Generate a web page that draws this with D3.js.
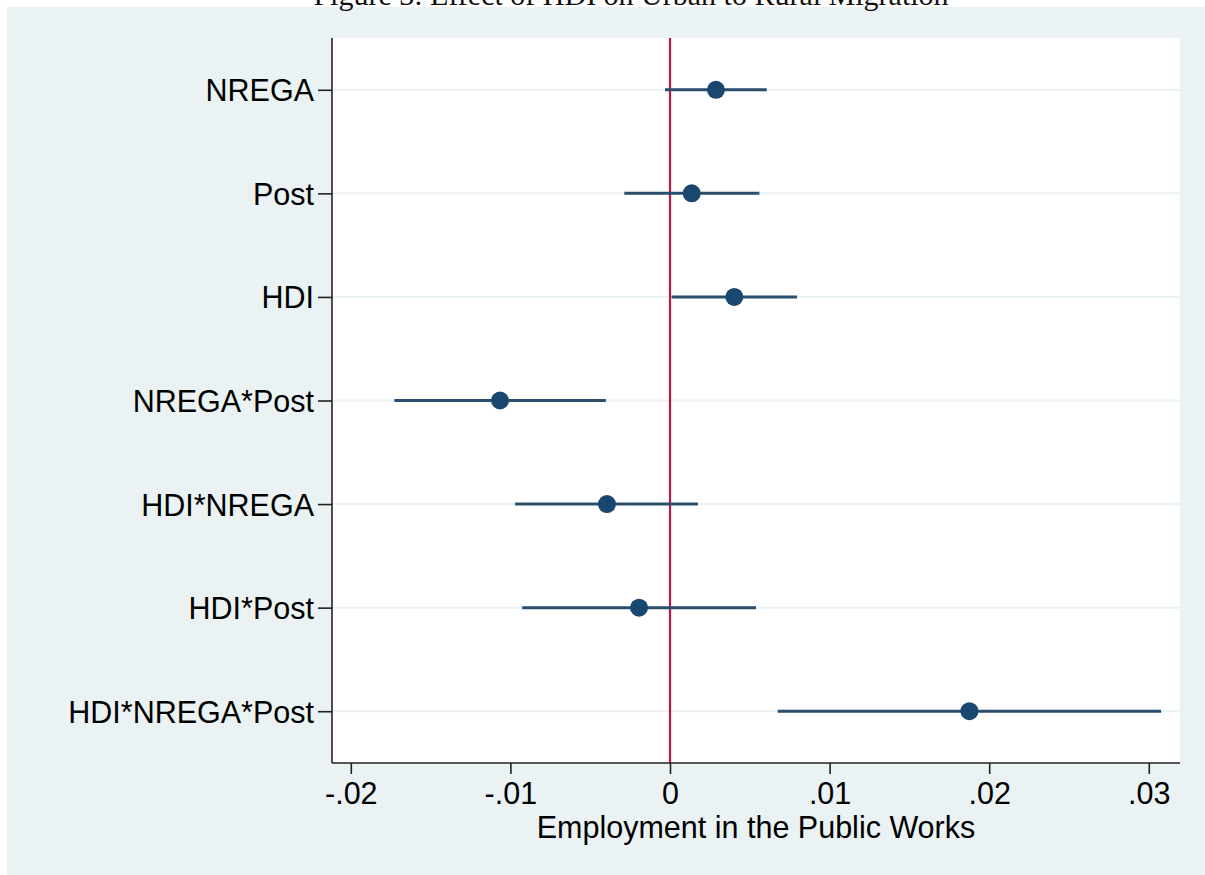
<!DOCTYPE html>
<html>
<head>
<meta charset="utf-8">
<script src="https://cdn.jsdelivr.net/npm/d3@7"></script>
<style>
  html, body { margin: 0; padding: 0; background: #ffffff; }
  svg { display: block; }
</style>
</head>
<body>
<svg id="chart" width="1205" height="875"></svg>
<script>
// Coefficient plot: point estimates with 95% confidence intervals
const terms = ["NREGA", "Post", "HDI", "NREGA*Post", "HDI*NREGA", "HDI*Post", "HDI*NREGA*Post"];
const estimates = [0.00288, 0.00136, 0.00403, -0.01065, -0.00395, -0.00194, 0.01876];
const ciLow  = [-0.00031, -0.00286, 0.00010, -0.01727, -0.00971, -0.00926, 0.00675];
const ciHigh = [0.00606, 0.00560, 0.00796, -0.00402, 0.00175, 0.00539, 0.03077];
const xTicks = [-0.02, -0.01, 0, 0.01, 0.02, 0.03];
const xTickLabels = ["-.02", "-.01", "0", ".01", ".02", ".03"];
const xTitle = "Employment in the Public Works";
const figTitle = "Figure 3: Effect of HDI on Urban to Rural Migration";

const svg = d3.select("#chart");
const W = 1205, H = 875;
const plot = { left: 332, right: 1180, top: 38, bottom: 763 };

// Graph background
svg.append("rect").attr("x", 7).attr("y", 7).attr("width", W - 7).attr("height", H - 7)
  .attr("fill", "#eaf2f3");

// Figure caption, running off the top edge of the page
svg.append("text")
  .attr("x", 631).attr("y", 5)
  .attr("text-anchor", "middle")
  .attr("font-family", "'Liberation Serif', 'Times New Roman', serif")
  .attr("font-size", 30)
  .attr("fill", "#111")
  .text(figTitle);

// Plot region
svg.append("rect")
  .attr("x", plot.left).attr("y", plot.top)
  .attr("width", plot.right - plot.left).attr("height", plot.bottom - plot.top)
  .attr("fill", "#ffffff");

const x = d3.scaleLinear()
  .domain([(plot.left - 670) / 15960, (plot.right - 670) / 15960])
  .range([plot.left, plot.right]);

const y = d3.scalePoint()
  .domain(terms)
  .range([plot.top, plot.bottom])
  .padding(0.5);

const font = "'Liberation Sans', Arial, Helvetica, sans-serif";
const fs = 30.5;

// Horizontal gridlines at each term
svg.append("g").selectAll("line")
  .data(terms).join("line")
  .attr("x1", plot.left).attr("x2", plot.right)
  .attr("y1", d => y(d)).attr("y2", d => y(d))
  .attr("stroke", "#eaf2f3").attr("stroke-width", 2);

// Reference line at zero
svg.append("line")
  .attr("x1", x(0)).attr("x2", x(0))
  .attr("y1", plot.top).attr("y2", plot.bottom)
  .attr("stroke", "#c41540").attr("stroke-width", 2.2);

// Confidence intervals
svg.append("g").selectAll("line")
  .data(terms).join("line")
  .attr("x1", (d, i) => x(ciLow[i])).attr("x2", (d, i) => x(ciHigh[i]))
  .attr("y1", d => y(d)).attr("y2", d => y(d))
  .attr("stroke", "#2b4d6e").attr("stroke-width", 3);

// Point estimates
svg.append("g").selectAll("circle")
  .data(terms).join("circle")
  .attr("cx", (d, i) => x(estimates[i]))
  .attr("cy", d => y(d))
  .attr("r", 9)
  .attr("fill", "#1a476f");

// Y axis
const yAxis = svg.append("g")
  .attr("transform", `translate(${plot.left},0)`)
  .call(d3.axisLeft(y).tickSize(14).tickPadding(4));
yAxis.select(".domain").attr("d", `M0,${plot.top}V${plot.bottom}`)
  .attr("stroke", "#222").attr("stroke-width", 1.6);
yAxis.selectAll(".tick line").attr("stroke", "#222").attr("stroke-width", 1.6);
yAxis.selectAll(".tick text")
  .attr("font-family", font).attr("font-size", fs).attr("fill", "#000")
  .attr("dy", "0.36em");

// X axis
const xAxis = svg.append("g")
  .attr("transform", `translate(0,${plot.bottom})`)
  .call(d3.axisBottom(x).tickValues(xTicks)
    .tickFormat((d, i) => xTickLabels[i]).tickSize(11).tickPadding(8));
xAxis.select(".domain").attr("d", `M${plot.left},0H${plot.right}`)
  .attr("stroke", "#222").attr("stroke-width", 1.6);
xAxis.selectAll(".tick line").attr("stroke", "#222").attr("stroke-width", 1.6);
xAxis.selectAll(".tick text")
  .attr("font-family", font).attr("font-size", fs).attr("fill", "#000");

// X axis title
svg.append("text")
  .attr("x", (plot.left + plot.right) / 2).attr("y", 838)
  .attr("text-anchor", "middle")
  .attr("font-family", font).attr("font-size", fs).attr("fill", "#000")
  .text(xTitle);
</script>
</body>
</html>
